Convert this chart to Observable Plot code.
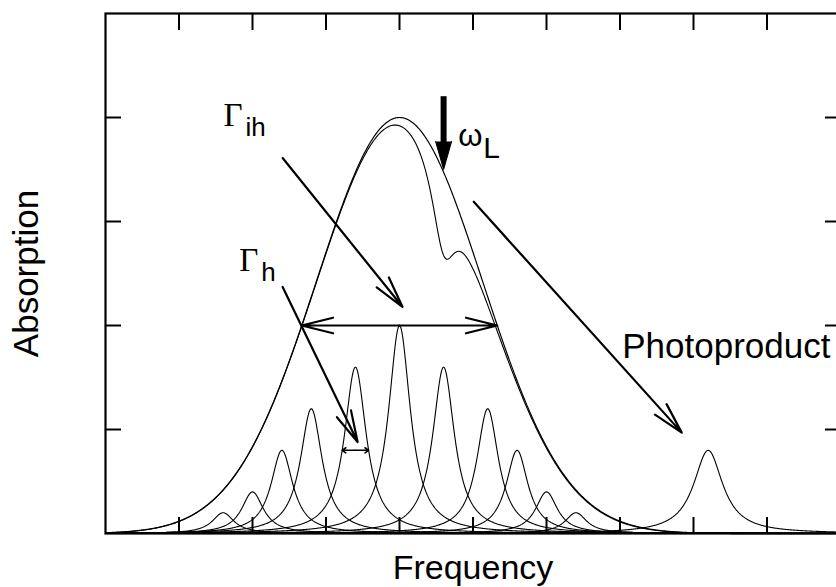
<!DOCTYPE html>
<html>
<head>
<meta charset="utf-8">
<script src="https://cdn.jsdelivr.net/npm/d3@7"></script>
<script src="https://cdn.jsdelivr.net/npm/@observablehq/plot@0.6"></script>
<style>
  html, body { margin: 0; padding: 0; background: #fff; overflow: hidden; }
  #chart svg { display: block; }
</style>
</head>
<body>
<div id="chart"></div>
<script>
// Inhomogeneous envelope: Gaussian in frequency
const envelopeCenter = 4.0;
const envelopePeak = 4.0;
const envelopeSigma = 1.13;

// Homogeneous (Lorentzian) lines that build up the envelope
const lineCenters = [1.6, 2.0, 2.4, 2.8, 3.4, 4.0, 4.6, 5.2, 5.6, 6.0, 6.4];
const lineHeights = [0.2, 0.4, 0.8, 1.2, 1.6, 2.0, 1.6, 1.2, 0.8, 0.4, 0.2];
const lineHalfWidth = 0.18;
const markedLine = 4; // the line whose width is marked with Γh

// Spectral hole burnt at the laser frequency ωL
const laserFrequency = 4.6;
const holeDepth = 0.8;
const holeHalfWidth = 0.2;
const laserArrowTop = 4.2;
const laserArrowTip = 3.5;

// Photoproduct band
const productCenter = 8.2;
const productHeight = 0.8;
const productHalfWidth = 0.24;

// Axis ticks (unlabelled)
const xTicks = [1, 2, 3, 4, 5, 6, 7, 8, 9];
const yTicks = [1, 2, 3, 4];

// Pointer arrows: start and end in data units
const pointerLabels = ["Γih", "Γh", "Photoproduct"];
const pointerX1 = [2.41, 2.41, 5.01];
const pointerY1 = [3.61, 2.37, 3.19];
const pointerX2 = [4.04, 3.43, 7.84];
const pointerY2 = [2.18, 0.88, 0.97];

// Annotation text anchors (left end of the baseline)
const symbolText = ["Γ", "Γ"];
const symbolSub = ["ih", "h"];
const symbolX = [1.605, 1.82];
const symbolY = [3.92, 2.52];
const omegaX = 4.80, omegaY = 3.73;
const productLabelX = 7.03, productLabelY = 1.69;

// ---- derived curves ----
const grid = d3.range(0, 10.0001, 0.01);
const gauss = f => envelopePeak * Math.exp(-((f - envelopeCenter) ** 2) / (2 * envelopeSigma ** 2));
const lorentz = (f, c, h, w) => h / (1 + ((f - c) / w) ** 2);

const envelope = grid.map(f => ({f, a: gauss(f)}));
const burnt = grid.map(f => ({f, a: gauss(f) - lorentz(f, laserFrequency, holeDepth, holeHalfWidth)}));
const homogeneous = lineCenters.flatMap((c, i) =>
  grid.map(f => ({line: i, f, a: lorentz(f, c, lineHeights[i], lineHalfWidth)})));
const product = grid.map(f => ({f, a: lorentz(f, productCenter, productHeight, productHalfWidth)}));

const halfWidthEnv = envelopeSigma * Math.sqrt(2 * Math.log(2));
const fwhmArrows = [-1, 1].map(s => ({
  x1: envelopeCenter, x2: envelopeCenter + s * halfWidthEnv, y: envelopePeak / 2
}));
const mc = lineCenters[markedLine], mh = lineHeights[markedLine];
const gammaArrows = [-1, 1].map(s => ({x1: mc, x2: mc + s * lineHalfWidth, y: mh / 2}));

const pointers = pointerLabels.map((label, i) => ({
  label, x1: pointerX1[i], y1: pointerY1[i], x2: pointerX2[i], y2: pointerY2[i]
}));
const symbols = symbolText.map((t, i) => ({t, sub: symbolSub[i], x: symbolX[i], y: symbolY[i]}));

const sans = "'Liberation Sans', Arial, Helvetica, sans-serif";
const serif = "'Liberation Serif', 'Times New Roman', serif";

const chart = Plot.plot({
  width: 836,
  height: 587,
  marginLeft: 105,
  marginRight: -4,
  marginTop: 13,
  marginBottom: 54,
  style: {fontFamily: sans, background: "#fff", color: "#000", overflow: "hidden"},
  x: {domain: [0, 10]},
  y: {domain: [0, 5]},
  marks: [
    // inward ticks on all four sides
    Plot.axisX({ticks: xTicks, anchor: "bottom", tickSize: 16, dy: -16, tickFormat: () => "", label: null, strokeWidth: 2}),
    Plot.axisX({ticks: xTicks, anchor: "top", tickSize: 16, dy: 16, tickFormat: () => "", label: null, strokeWidth: 2}),
    Plot.axisY({ticks: yTicks, anchor: "left", tickSize: 16, dx: 16, tickFormat: () => "", label: null, strokeWidth: 2}),
    Plot.axisY({ticks: yTicks, anchor: "right", tickSize: 16, dx: -16, tickFormat: () => "", label: null, strokeWidth: 2}),

    // homogeneous lines
    Plot.line(homogeneous, {x: "f", y: "a", z: "line", stroke: "#000", strokeWidth: 1.1}),
    // photoproduct band
    Plot.line(product, {x: "f", y: "a", stroke: "#000", strokeWidth: 1.1}),
    // envelope before and after burning
    Plot.line(envelope, {x: "f", y: "a", stroke: "#000", strokeWidth: 1.2}),
    Plot.line(burnt, {x: "f", y: "a", stroke: "#000", strokeWidth: 1.1}),

    // widths
    Plot.arrow(fwhmArrows, {x1: "x1", y1: "y", x2: "x2", y2: "y", stroke: "#000", strokeWidth: 2.2, headAngle: 28, headLength: 22}),
    Plot.arrow(gammaArrows, {x1: "x1", y1: "y", x2: "x2", y2: "y", stroke: "#000", strokeWidth: 1.6, headAngle: 70, headLength: 8}),

    // pointers
    Plot.arrow(pointers, {x1: "x1", y1: "y1", x2: "x2", y2: "y2", stroke: "#000", strokeWidth: 2.2, headAngle: 28, headLength: 22}),

    // laser arrow ωL
    Plot.ruleX([laserFrequency], {y1: laserArrowTop, y2: laserArrowTip + 0.2, stroke: "#000", strokeWidth: 6}),
    Plot.vector([laserFrequency], {x: d => d, y: laserArrowTip, length: 28, r: 8, rotate: 180, shape: "spike", anchor: "end", fill: "#000", stroke: "#000", strokeWidth: 1}),

    // labels
    Plot.text(symbols, {x: "x", y: "y", text: "t", textAnchor: "start", lineAnchor: "bottom", fontFamily: serif, fontSize: 33, fill: "#000"}),
    Plot.text(symbols, {x: "x", y: "y", text: "sub", textAnchor: "start", lineAnchor: "bottom", dx: 22, dy: 10, fontSize: 26, fill: "#000"}),
    Plot.text(["ω"], {x: omegaX, y: omegaY, text: d => d, textAnchor: "start", lineAnchor: "bottom", fontSize: 31, fill: "#000"}),
    Plot.text(["L"], {x: omegaX, y: omegaY, text: d => d, textAnchor: "start", lineAnchor: "bottom", dx: 25, dy: 12, fontSize: 30, fill: "#000"}),
    Plot.text(["Photoproduct"], {x: productLabelX, y: productLabelY, text: d => d, textAnchor: "start", lineAnchor: "bottom", fontSize: 35, fill: "#000"}),

    // axis titles
    Plot.text(["Frequency"], {frameAnchor: "bottom", text: d => d, textAnchor: "middle", lineAnchor: "bottom", dy: 45, fontSize: 34, fill: "#000"}),
    Plot.text(["Absorption"], {frameAnchor: "left", text: d => d, textAnchor: "middle", lineAnchor: "bottom", rotate: -90, dx: -68, fontSize: 35, fill: "#000"}),

    Plot.frame({stroke: "#000", strokeWidth: 2.2})
  ]
});
document.getElementById("chart").append(chart);
</script>
</body>
</html>
